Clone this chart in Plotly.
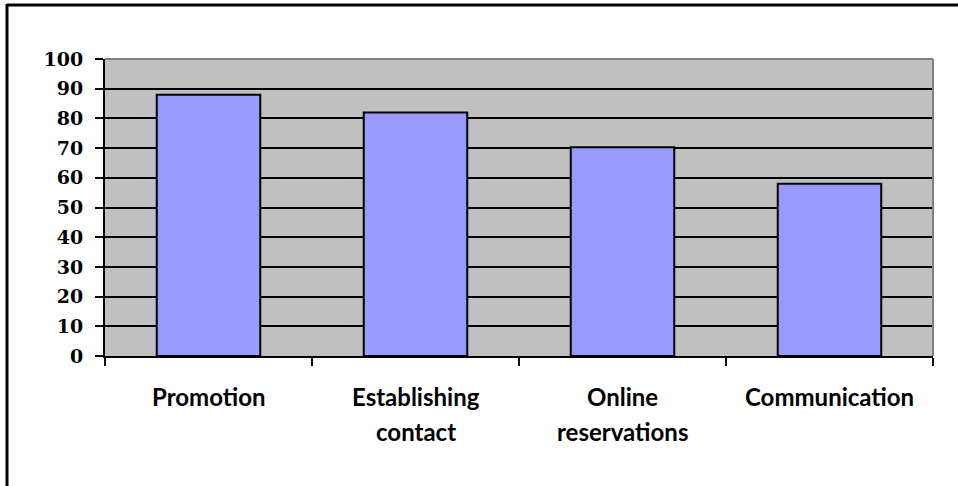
import plotly.graph_objects as go

categories = ["Promotion", "Establishing\ncontact", "Online\nreservations", "Communication"]
values = [88, 82, 70.3, 58]
y_ticks = list(range(0, 101, 10))

W, H = 958, 486
ML, MR, MT, MB = 105, 25, 59, 130
pw, ph = W - ML - MR, H - MT - MB

fig = go.Figure()
fig.add_trace(go.Bar(
    x=categories, y=values, width=0.5,
    marker=dict(color="#9999ff", line=dict(color="black", width=2)),
))

annotations = []
for c in categories:
    for i, line in enumerate(c.split("\n")):
        annotations.append(dict(
            x=c, xref="x", y=0, yref="paper", yanchor="middle",
            yshift=-(40 + 35 * i), text=line, showarrow=False,
            font=dict(family="Lato", size=24, color="black", weight="bold"),
        ))

def px_x(p):
    return (p - ML) / pw

def px_y(p):
    return 1 - (p - MT) / ph

shapes = [
    # outer frame (top and left visible)
    dict(type="line", xref="paper", yref="paper", x0=px_x(7), x1=px_x(970), y0=px_y(5), y1=px_y(5),
         line=dict(color="black", width=3)),
    dict(type="line", xref="paper", yref="paper", x0=px_x(7), x1=px_x(7), y0=px_y(4), y1=px_y(500),
         line=dict(color="black", width=3)),
    # plot area top/right border in gray
    dict(type="line", xref="paper", yref="paper", x0=0, x1=1, y0=1, y1=1,
         line=dict(color="#808080", width=2), layer="above"),
    dict(type="line", xref="paper", yref="paper", x0=1, x1=1, y0=0, y1=1,
         line=dict(color="#808080", width=2), layer="above"),
]

fig.update_layout(
    width=W, height=H,
    margin=dict(l=ML, r=MR, t=MT, b=MB),
    paper_bgcolor="white", plot_bgcolor="#c0c0c0",
    showlegend=False,
    annotations=annotations, shapes=shapes,
    xaxis=dict(
        type="category", tickson="boundaries", showticklabels=False,
        ticks="outside", ticklen=8, tickwidth=2, tickcolor="black",
        showline=True, linecolor="black", linewidth=2, showgrid=False,
        range=[-0.5, 3.5],
    ),
    yaxis=dict(
        range=[0, 100], tickvals=y_ticks, ticks="outside", ticklen=8, tickwidth=2,
        tickcolor="black", showline=True, linecolor="black", linewidth=2,
        gridcolor="black", gridwidth=2, zeroline=False, ticklabelstandoff=8,
        tickfont=dict(family="DejaVu Serif", size=19, color="black", weight="bold"),
    ),
    bargap=0.5,
)

fig.write_html("out.html", config={"displayModeBar": False},
               post_script="document.body.style.margin='0';")
